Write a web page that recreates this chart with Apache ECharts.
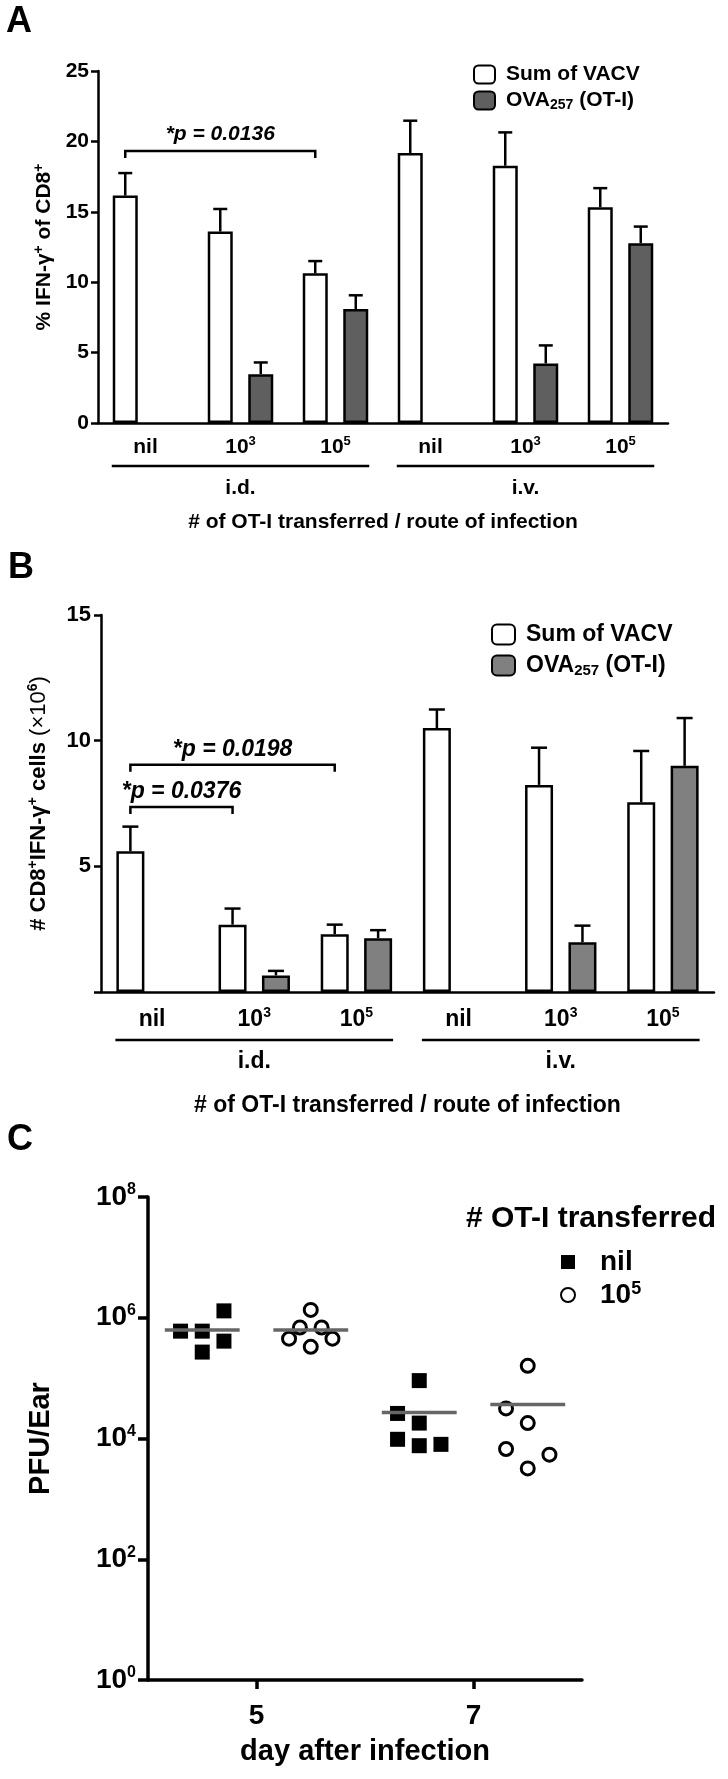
<!DOCTYPE html>
<html><head><meta charset="utf-8">
<script src="https://cdn.jsdelivr.net/npm/echarts@6/dist/echarts.min.js"></script>
<style>html,body{margin:0;padding:0;background:#fff}#c{width:728px;height:1779px}</style>
</head><body><div id="c"></div>
<script>
// ---------- DATA ----------
const categories = ['nil', '10^3', '10^5', 'nil', '10^3', '10^5'];
const routeNames = ['i.d.', 'i.v.'];
const routeFrom = [0, 3];
const routeTo = [2, 5];

// Panel A: % IFN-γ+ of CD8+ (mean, SEM)
const aVacv    = [16.15, 13.6, 10.63, 19.17, 18.27, 15.33];
const aVacvSem = [1.6, 1.6, 0.87, 2.3, 2.37, 1.35];
const aOva     = [null, 3.47, 8.09, null, 4.23, 12.77];
const aOvaSem  = [null, 0.83, 0.98, null, 1.28, 1.18];
const aBracketFrom = [0];
const aBracketTo = [2];
const aBracketY = [19.32];
const aBracketP = ['0.0136'];

// Panel B: # CD8+IFN-γ+ cells (x10^6)
const bVacv    = [5.6, 2.68, 2.30, 10.5, 8.24, 7.55];
const bVacvSem = [0.98, 0.64, 0.38, 0.74, 1.48, 2.04];
const bOva     = [null, 0.66, 2.14, null, 1.98, 9.0];
const bOvaSem  = [null, 0.18, 0.32, null, 0.66, 1.9];
const bBracketFrom = [0, 0];
const bBracketTo = [2, 1];
const bBracketY = [9.04, 7.36];
const bBracketP = ['0.0198', '0.0376'];

// Panel C: PFU/Ear, points as [plotted day position, PFU]
const cDayTicks = [5, 7];
const cNil = [[4.3, 6.0e5], [4.5, 6.0e5], [4.5, 2.7e5], [4.7, 1.3e6], [4.7, 4.1e5],
              [6.5, 9.1e4], [6.3, 2.6e4], [6.5, 1.8e4], [6.3, 9.7e3], [6.5, 7.6e3], [6.7, 8.0e3]];
const cOT = [[5.5, 1.35e6], [5.4, 6.9e5], [5.6, 6.9e5], [5.3, 4.5e5], [5.7, 4.5e5], [5.5, 3.3e5],
             [7.5, 1.6e5], [7.3, 3.15e4], [7.5, 1.8e4], [7.3, 6.7e3], [7.7, 5.4e3], [7.5, 3.2e3]];
const cMedianX = [4.5, 5.5, 6.5, 7.5];
const cMedian = [6.25e5, 6.25e5, 2.7e4, 3.65e4];

// ---------- STYLE ----------
const FONT = '"Liberation Sans", Arial, Helvetica, sans-serif';
const A_BW = 25, A_GAP = 15.5, B_BW = 28, B_GAP = 15.4;
function supRich(size, ss, lh) {
  return {
    a: {fontSize: size, fontWeight: 'bold', fontFamily: FONT, color: '#000', lineHeight: lh},
    s: {fontSize: ss, fontWeight: 'bold', fontFamily: FONT, color: '#000', verticalAlign: 'top', lineHeight: Math.round(ss * 0.75)}
  };
}
function fmtSup(t) {
  const m = String(t).split('^');
  return m.length > 1 ? '{a|' + m[0] + '}{s|' + m[1] + '}' : '{a|' + m[0] + '}';
}
function legendRich(size, lh, pad) {
  return {
    n: {fontSize: size, fontWeight: 'bold', fontFamily: FONT, color: '#000', lineHeight: lh, padding: [0, 0, 0, pad]},
    m: {fontSize: size, fontWeight: 'bold', fontFamily: FONT, color: '#000', lineHeight: lh},
    b: {fontSize: Math.round(size * 0.65), fontWeight: 'bold', fontFamily: FONT, color: '#000', verticalAlign: 'bottom', lineHeight: Math.round(size * 0.5)},
    s: {fontSize: Math.round(size * 0.65), fontWeight: 'bold', fontFamily: FONT, color: '#000', verticalAlign: 'top', lineHeight: Math.round(size * 0.45)}
  };
}
function legendFmt(name) {
  const n = name.slice(2);
  if (n.indexOf('OVA') === 0) return '{n|OVA}{b|257}{m| (OT-I)}';
  if (n.indexOf('^') > 0) { const p = n.split('^'); return '{n|' + p[0] + '}{s|' + p[1] + '}'; }
  return '{n|' + n + '}';
}
const axisLineStyle = w => ({show: true, lineStyle: {color: '#000', width: w}});

function errSeries(name, xi, yi, means, sems, offset, cap) {
  const data = [];
  means.forEach((m, i) => { if (m != null) data.push([i, m, m + sems[i]]); });
  return {
    type: 'custom', name: name, xAxisIndex: xi, yAxisIndex: yi, clip: false, z: 3,
    data: data,
    renderItem: function (params, api) {
      const p0 = api.coord([api.value(0), api.value(1)]);
      const p1 = api.coord([api.value(0), api.value(2)]);
      const x = p0[0] + offset;
      return {type: 'group', children: [
        {type: 'line', shape: {x1: x, y1: p0[1], x2: x, y2: p1[1]}, style: {stroke: '#000', lineWidth: 2.5}},
        {type: 'line', shape: {x1: x - cap / 2, y1: p1[1], x2: x + cap / 2, y2: p1[1]}, style: {stroke: '#000', lineWidth: 2.5}}
      ]};
    }
  };
}
function bracketSeries(xi, yi, from, to, ys, ps, offset, fs, textGap) {
  return {
    type: 'custom', xAxisIndex: xi, yAxisIndex: yi, clip: false, z: 4,
    data: from.map((f, i) => [f, ys[i], to[i]]),
    renderItem: function (params, api) {
      const i = params.dataIndex;
      const a = api.coord([api.value(0), api.value(1)]);
      const b = api.coord([api.value(2), api.value(1)]);
      const x1 = a[0] + offset, x2 = b[0] + offset, y = a[1];
      return {type: 'group', children: [
        {type: 'polyline', shape: {points: [[x1, y + 7], [x1, y], [x2, y], [x2, y + 7]]}, style: {stroke: '#000', lineWidth: 2.5, fill: null}},
        {type: 'text', style: {text: '*p = ' + ps[i], x: (x1 + x2) / 2, y: y - textGap, align: 'center', verticalAlign: 'bottom',
          fontSize: fs, fontWeight: 'bold', fontStyle: 'italic', fontFamily: FONT, fill: '#000'}}
      ]};
    }
  };
}
function routeSeries(xi, yi, half, lineDy, textDy, fs) {
  return {
    type: 'custom', xAxisIndex: xi, yAxisIndex: yi, clip: false, z: 4,
    data: routeFrom.map((f, i) => [f, 0, routeTo[i]]),
    renderItem: function (params, api) {
      const a = api.coord([api.value(0), 0]);
      const b = api.coord([api.value(2), 0]);
      const y = a[1] + lineDy;
      return {type: 'group', children: [
        {type: 'line', shape: {x1: a[0] - half, y1: y, x2: b[0] + half, y2: y}, style: {stroke: '#000', lineWidth: 2.5}},
        {type: 'text', style: {text: routeNames[params.dataIndex], x: (a[0] + b[0]) / 2, y: y + textDy, align: 'center', verticalAlign: 'middle',
          fontSize: fs, fontWeight: 'bold', fontFamily: FONT, fill: '#000'}}
      ]};
    }
  };
}

const option = {
  animation: false,
  backgroundColor: '#fff',
  grid: [
    {left: 98, top: 71, width: 570, height: 352},
    {left: 101, top: 615, width: 613, height: 377},
    {left: 148, top: 1197, width: 434, height: 483}
  ],
  xAxis: [
    {gridIndex: 0, type: 'category', data: categories,
     axisLine: axisLineStyle(2.5), axisTick: {alignWithLabel: true, length: 7, lineStyle: {width: 2.5, color: '#000'}},
     axisLabel: {margin: 12, formatter: fmtSup, rich: supRich(21, 13, 25)},
     name: '# of OT-I transferred / route of infection', nameLocation: 'middle', nameGap: 89,
     nameTextStyle: {fontSize: 21, fontWeight: 'bold', fontFamily: FONT, color: '#000'}},
    {gridIndex: 1, type: 'category', data: categories,
     axisLine: axisLineStyle(2.5), axisTick: {alignWithLabel: true, length: 7, lineStyle: {width: 2.5, color: '#000'}},
     axisLabel: {margin: 14, formatter: fmtSup, rich: supRich(23, 14, 27)},
     name: '# of OT-I transferred / route of infection', nameLocation: 'middle', nameGap: 102,
     nameTextStyle: {fontSize: 23, fontWeight: 'bold', fontFamily: FONT, color: '#000'}},
    {gridIndex: 2, type: 'value', min: 4, max: 8,
     axisLine: axisLineStyle(3.5), splitLine: {show: false},
     axisTick: {length: 9, lineStyle: {width: 3.5, color: '#000'}, customValues: cDayTicks},
     axisLabel: {margin: 22, fontSize: 28, fontWeight: 'bold', fontFamily: FONT, color: '#000', customValues: cDayTicks},
     name: 'day after infection', nameLocation: 'middle', nameGap: 57,
     nameTextStyle: {fontSize: 29, fontWeight: 'bold', fontFamily: FONT, color: '#000'}}
  ],
  yAxis: [
    {gridIndex: 0, type: 'value', min: 0, max: 25, interval: 5,
     axisLine: axisLineStyle(2.5), axisTick: {show: true, length: 7, lineStyle: {width: 2.5, color: '#000'}}, splitLine: {show: false},
     axisLabel: {fontSize: 21, fontWeight: 'bold', fontFamily: FONT, color: '#000', margin: 9},
     name: '{n|% IFN-γ}{s|+}{n| of CD8}{s|+}', nameLocation: 'middle', nameRotate: 90, nameGap: 39,
     nameTextStyle: {rich: {
       n: {fontSize: 21, fontWeight: 'bold', fontFamily: FONT, color: '#000', lineHeight: 24},
       s: {fontSize: 14, fontWeight: 'bold', fontFamily: FONT, color: '#000', verticalAlign: 'top', lineHeight: 9}}}},
    {gridIndex: 1, type: 'value', min: 0, max: 15, interval: 5,
     axisLine: axisLineStyle(2.5), axisTick: {show: true, length: 7, lineStyle: {width: 2.5, color: '#000'}}, splitLine: {show: false},
     axisLabel: {fontSize: 22, fontWeight: 'bold', fontFamily: FONT, color: '#000', margin: 10, formatter: v => v === 0 ? '' : String(v)},
     name: '{n|# CD8}{s|+}{n|IFN-γ}{s|+}{n| cells }{r|(×10}{s|6}{r|)}', nameLocation: 'middle', nameRotate: 90, nameGap: 50,
     nameTextStyle: {rich: {
       n: {fontSize: 22, fontWeight: 'bold', fontFamily: FONT, color: '#000', lineHeight: 25},
       r: {fontSize: 22, fontWeight: 'normal', fontFamily: FONT, color: '#000', lineHeight: 25},
       s: {fontSize: 14, fontWeight: 'bold', fontFamily: FONT, color: '#000', verticalAlign: 'top', lineHeight: 9}}}},
    {gridIndex: 2, type: 'value', min: 0, max: 8, interval: 2,
     axisLine: axisLineStyle(3.5), axisTick: {show: true, length: 10, lineStyle: {width: 3.5, color: '#000'}}, splitLine: {show: false},
     axisLabel: {margin: 12, formatter: v => '{a|10}{s|' + v + '}', rich: supRich(28, 16, 30)},
     name: 'PFU/Ear', nameLocation: 'middle', nameRotate: 90, nameGap: 93,
     nameTextStyle: {fontSize: 29, fontWeight: 'bold', fontFamily: FONT, color: '#000'}}
  ],
  legend: [
    {left: 468, top: 59, orient: 'vertical', itemWidth: 21, itemHeight: 18, itemGap: 5,
     data: ['A:Sum of VACV', 'A:OVA257 (OT-I)'], formatter: legendFmt, textStyle: {rich: legendRich(21, 24, 6)}, selectedMode: false},
    {left: 486, top: 618, orient: 'vertical', itemWidth: 23, itemHeight: 20, itemGap: 8,
     data: ['B:Sum of VACV', 'B:OVA257 (OT-I)'], formatter: legendFmt, textStyle: {rich: legendRich(23, 26, 6)}, selectedMode: false},
    {left: 555, top: 1243, orient: 'vertical', itemWidth: 14, itemHeight: 14, itemGap: 4,
     data: ['C:nil', 'C:10^5'], formatter: legendFmt, textStyle: {rich: legendRich(28, 30, 20)}, selectedMode: false}
  ],
  graphic: [
    {type: 'text', left: 6, top: 4, style: {text: 'A', fontSize: 36, fontWeight: 'bold', fontFamily: FONT, fill: '#000'}},
    {type: 'text', left: 8, top: 550, style: {text: 'B', fontSize: 36, fontWeight: 'bold', fontFamily: FONT, fill: '#000'}},
    {type: 'text', left: 7, top: 1122, style: {text: 'C', fontSize: 36, fontWeight: 'bold', fontFamily: FONT, fill: '#000'}},
    {type: 'text', left: 466, top: 1204, style: {text: '# OT-I transferred', fontSize: 30, fontWeight: 'bold', fontFamily: FONT, fill: '#000'}}
  ],
  series: [
    {type: 'bar', name: 'A:Sum of VACV', xAxisIndex: 0, yAxisIndex: 0, data: aVacv, barWidth: A_BW, barGap: (A_GAP / A_BW * 100) + '%',
     itemStyle: {color: '#fff', borderColor: '#000', borderWidth: 2.5}},
    {type: 'bar', name: 'A:OVA257 (OT-I)', xAxisIndex: 0, yAxisIndex: 0, data: aOva, barWidth: A_BW,
     itemStyle: {color: '#5f5f5f', borderColor: '#000', borderWidth: 2.5}},
    errSeries('errA1', 0, 0, aVacv, aVacvSem, -(A_BW + A_GAP) / 2, 14),
    errSeries('errA2', 0, 0, aOva, aOvaSem, (A_BW + A_GAP) / 2, 14),
    bracketSeries(0, 0, aBracketFrom, aBracketTo, aBracketY, aBracketP, -(A_BW + A_GAP) / 2, 21, 6),
    routeSeries(0, 0, A_BW + A_GAP / 2 + 1, 43, 22, 21),

    {type: 'bar', name: 'B:Sum of VACV', xAxisIndex: 1, yAxisIndex: 1, data: bVacv, barWidth: B_BW, barGap: (B_GAP / B_BW * 100) + '%',
     itemStyle: {color: '#fff', borderColor: '#000', borderWidth: 2.5}},
    {type: 'bar', name: 'B:OVA257 (OT-I)', xAxisIndex: 1, yAxisIndex: 1, data: bOva, barWidth: B_BW,
     itemStyle: {color: '#808080', borderColor: '#000', borderWidth: 2.5}},
    errSeries('errB1', 1, 1, bVacv, bVacvSem, -(B_BW + B_GAP) / 2, 16),
    errSeries('errB2', 1, 1, bOva, bOvaSem, (B_BW + B_GAP) / 2, 16),
    bracketSeries(1, 1, bBracketFrom, bBracketTo, bBracketY, bBracketP, -(B_BW + B_GAP) / 2, 23, 4),
    routeSeries(1, 1, B_BW + B_GAP / 2 + 1, 48, 22, 23),

    {type: 'scatter', name: 'C:nil', xAxisIndex: 2, yAxisIndex: 2, symbol: 'rect', symbolSize: 15,
     data: cNil.map(p => [p[0], Math.log10(p[1])]), itemStyle: {color: '#000', opacity: 1}},
    {type: 'scatter', name: 'C:10^5', xAxisIndex: 2, yAxisIndex: 2, symbol: 'circle', symbolSize: 13,
     data: cOT.map(p => [p[0], Math.log10(p[1])]), itemStyle: {color: '#fff', borderColor: '#000', borderWidth: 3, opacity: 1}},
    {type: 'custom', xAxisIndex: 2, yAxisIndex: 2, z: 5,
     data: cMedianX.map((x, i) => [x, Math.log10(cMedian[i])]),
     renderItem: function (params, api) {
       const a = api.coord([api.value(0) - 0.345, api.value(1)]);
       const b = api.coord([api.value(0) + 0.345, api.value(1)]);
       return {type: 'line', shape: {x1: a[0], y1: a[1], x2: b[0], y2: b[1]}, style: {stroke: '#666', lineWidth: 3.5}};
     }}
  ]
};
const chart = echarts.init(document.getElementById('c'), null, {width: 728, height: 1779});
chart.setOption(option);
</script></body></html>
